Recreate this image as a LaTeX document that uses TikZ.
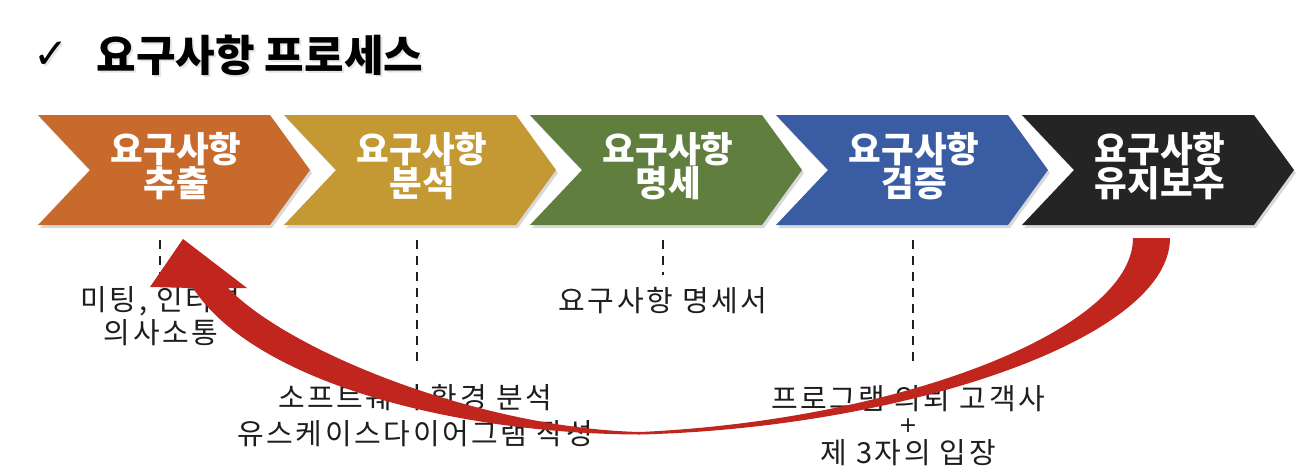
\documentclass[tikz,border=0pt]{standalone}
\usepackage{fontspec}
\newfontfamily\krfont{Noto Sans CJK KR}
\newfontfamily\krspaced{Noto Sans CJK KR}[LetterSpace=9]
\newfontfamily\symfont{DejaVu Sans}
\definecolor{corange}{RGB}{200,106,44}
\definecolor{cgold}{RGB}{196,152,50}
\definecolor{cgreen}{RGB}{96,126,62}
\definecolor{cblue}{RGB}{58,92,162}
\definecolor{cblack}{RGB}{36,36,36}
\definecolor{arrowred}{RGB}{192,38,30}
\definecolor{inkgray}{RGB}{30,30,30}
\begin{document}
\begin{tikzpicture}[x=1pt,y=-1pt,
  chevtext/.style={text=white, font=\krfont\bfseries\fontsize{35.5}{32}\selectfont, align=center, inner sep=0pt},
  lowtext/.style={text=inkgray, font=\krspaced\fontsize{29}{34}\selectfont, align=center, inner sep=0pt},
  dline/.style={draw=inkgray, dash pattern=on 9pt off 7pt, line width=2pt},
  titletext/.style={text=black, font=\krfont\bfseries\fontsize{43}{44}\selectfont, inner sep=0pt},
  bigarrow/.style={fill=arrowred, draw=none}
]
\useasboundingbox (0,0) rectangle (1314,472);
\fill[white] (0,0) rectangle (1314,472);

% title
\node[titletext, text=black!20, opacity=0.5] at (262,57) {요구사항 프로세스};
\node[titletext] (title) at (260,55) {요구사항 프로세스};
\node[inner sep=0pt, text=black!20, opacity=0.5, font=\symfont\fontsize{42}{44}\selectfont] at (53,57) {✓};
\node[inner sep=0pt, font=\symfont\fontsize{42}{44}\selectfont] (check) at (51,55) {✓};

% chevrons
\foreach \xo/\col/\nm/\lab in {38/corange/c1/추출, 284/cgold/c2/분석, 530/cgreen/c3/명세, 776/cblue/c4/검증, 1022/cblack/c5/유지보수}{
  \fill[black, opacity=0.15] (\xo+2,118) -- (\xo+234,118) -- (\xo+274,173) -- (\xo+234,228) -- (\xo+2,228) -- (\xo+54,173) -- cycle;
  \fill[\col] (\xo,115) -- (\xo+232,115) -- (\xo+272,170) -- (\xo+232,225) -- (\xo,225) -- (\xo+52,170) -- cycle;
  \node[chevtext] (\nm) at (\xo+138,166) {요구사항\\\lab};
}

% dashed lines
\coordinate (d1a) at (160,240); \coordinate (d1b) at (160,277);
\coordinate (d2a) at (417,240); \coordinate (d2b) at (417,368);
\coordinate (d3a) at (663,240); \coordinate (d3b) at (663,275);
\coordinate (d4a) at (913,240); \coordinate (d4b) at (913,368);
\draw[dline] (d1a) -- (d1b);
\draw[dline] (d2a) -- (d2b);
\draw[dline] (d3a) -- (d3b);
\draw[dline] (d4a) -- (d4b);

% lower texts
\node[lowtext, font=\krspaced\fontsize{29}{33}\selectfont] (t1) at (161,316) {미팅, 인터뷰\\의사소통};
\node[lowtext, font=\krspaced\fontsize{29}{36}\selectfont] (t2) at (415,416) {소프트웨어 환경 분석\\유스케이스다이어그램 작성};
\node[lowtext] (t3) at (663,301) {요구사항 명세서};
\node[lowtext] (t4a) at (908,399) {프로그램 의뢰 고객사};
\node[lowtext, font=\symfont\fontsize{22}{22}\selectfont, text height=13pt, text depth=0pt] (t4b) at (908,426) {+};
\node[lowtext] (t4c) at (908,453) {제 3자의 입장};

% big curved arrow
\fill[bigarrow] (150,287) -- (183,239) -- (247,288) -- (228,288)
  .. controls (290,352) and (480,428) .. (640,432)
  .. controls (900,420) and (1133,330) .. (1133,238)
  -- (1170,238)
  .. controls (1170,340) and (900,428) .. (640,434.5)
  .. controls (460,434) and (256,384) .. (193,288)
  -- cycle;
\end{tikzpicture}
\end{document}
